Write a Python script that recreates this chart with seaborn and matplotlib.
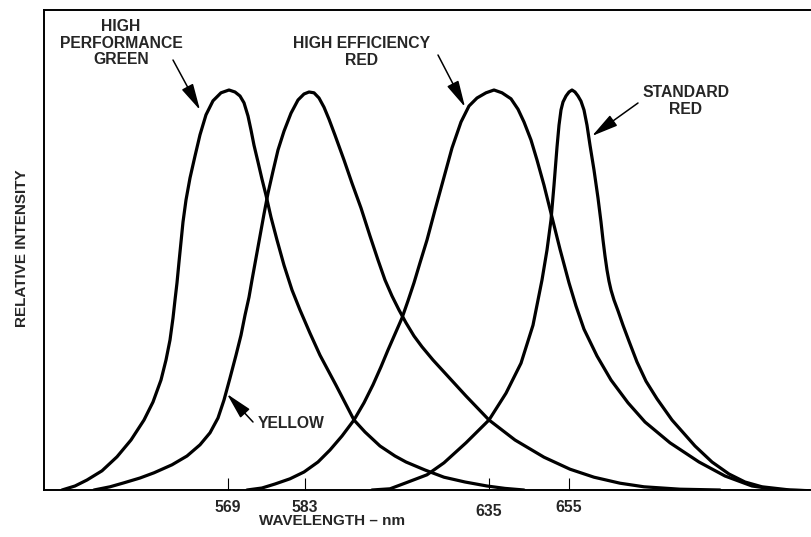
import numpy as np
import pandas as pd
import matplotlib
matplotlib.use("Agg")
from matplotlib import pyplot as plt
import seaborn as sns

# LED emission spectra (schematic), x = position along the wavelength axis,
# y = relative intensity (peak = 1)
green_x = [62, 75, 87, 102, 117, 131, 144, 153, 161, 166, 170, 173, 175, 177, 179, 181, 183, 186,
           190, 195, 200, 206, 213, 221, 229, 235, 240, 244, 248, 251, 254, 258, 262, 266, 271, 277,
           284, 292, 300, 310, 320, 336, 354, 365, 380, 395, 406, 425, 444, 465, 487, 505, 524]
green_y = [0.0, 0.01, 0.025, 0.048, 0.083, 0.125, 0.175, 0.22, 0.275, 0.325, 0.375, 0.43, 0.475,
           0.518, 0.57, 0.62, 0.67, 0.725, 0.78, 0.835, 0.888, 0.938, 0.973, 0.993, 1.0, 0.995,
           0.985, 0.968, 0.935, 0.9, 0.862, 0.82, 0.777, 0.737, 0.682, 0.625, 0.562, 0.5, 0.45,
           0.392, 0.337, 0.262, 0.175, 0.145, 0.11, 0.085, 0.07, 0.05, 0.032, 0.02, 0.01, 0.004, 0.0]

yellow_x = [94, 110, 124, 140, 154, 172, 187, 200, 210, 218, 224, 230, 236, 241, 245, 249, 252, 256,
            260, 264, 268, 273, 278, 284, 291, 298, 304, 309, 314, 319, 324, 329, 335, 344, 352, 361,
            370, 378, 385, 392, 399, 406, 414, 422, 433, 444, 455, 466, 489, 515, 544, 570, 594,
            620, 644, 680, 720]
yellow_y = [0.0, 0.008, 0.018, 0.03, 0.043, 0.063, 0.085, 0.113, 0.143, 0.18, 0.225, 0.28, 0.337,
            0.387, 0.437, 0.482, 0.525, 0.58, 0.635, 0.69, 0.742, 0.797, 0.85, 0.897, 0.942, 0.975,
            0.99, 0.995, 0.993, 0.98, 0.957, 0.927, 0.887, 0.825, 0.767, 0.705, 0.635, 0.575,
            0.525, 0.485, 0.45, 0.418, 0.385, 0.358, 0.325, 0.295, 0.265, 0.235, 0.175, 0.125,
            0.082, 0.052, 0.032, 0.017, 0.008, 0.002, 0.0]

her_x = [247, 262, 275, 290, 304, 318, 330, 342, 354, 364, 373, 381, 388, 395, 402, 408, 414, 420,
         427, 435, 444, 452, 461, 469, 477, 486, 494, 502, 511, 518, 524, 531, 537, 544, 551, 560,
         569, 576, 584, 597, 611, 628, 645, 670, 699, 725, 752, 780, 812]
her_y = [0.0, 0.005, 0.015, 0.028, 0.045, 0.07, 0.1, 0.135, 0.175, 0.218, 0.263, 0.308, 0.35,
         0.39, 0.43, 0.473, 0.518, 0.568, 0.625, 0.7, 0.782, 0.855, 0.92, 0.96, 0.98, 0.993, 1.0,
         0.993, 0.978, 0.952, 0.92, 0.875, 0.825, 0.762, 0.692, 0.602, 0.518, 0.46, 0.402, 0.335,
         0.275, 0.218, 0.17, 0.118, 0.07, 0.035, 0.01, 0.0, -0.002]

std_x = [372, 390, 406, 427, 444, 466, 489, 506, 521, 533, 542, 547, 551, 554, 557, 559, 561, 563,
         566, 569, 572, 575, 578, 581, 584, 587, 590, 594, 598, 601, 603, 605, 607, 609, 611, 614,
         618, 623, 629, 637, 646, 657, 672, 695, 712, 729, 745, 762, 790, 812]
std_y = [0.0, 0.003, 0.018, 0.038, 0.068, 0.118, 0.175, 0.242, 0.317, 0.412, 0.525, 0.6, 0.675,
         0.762, 0.857, 0.912, 0.95, 0.97, 0.985, 0.995, 1.0, 0.995, 0.985, 0.972, 0.95, 0.912,
         0.862, 0.8, 0.73, 0.67, 0.625, 0.585, 0.55, 0.522, 0.5, 0.475, 0.448, 0.412, 0.372,
         0.32, 0.272, 0.228, 0.175, 0.11, 0.07, 0.04, 0.02, 0.008, 0.0, -0.002]

tick_pos = [228, 305, 489, 569]
tick_labels = ["569", "583", "635", "655"]

frames = []
for name, xs, ys in [("green", green_x, green_y), ("yellow", yellow_x, yellow_y),
                     ("her", her_x, her_y), ("std", std_x, std_y)]:
    frames.append(pd.DataFrame({"pos": xs, "intensity": ys, "led": name}))
df = pd.concat(frames, ignore_index=True)

sns.set_style("white")
plt.rcParams['font.family'] = ['Liberation Sans', 'DejaVu Sans']
plt.rcParams['font.weight'] = 'bold'

fig = plt.figure(figsize=(8.12, 5.37), dpi=100)
ax = fig.add_axes([44 / 812, 47 / 537, 768 / 812, 480 / 537])

sns.lineplot(data=df, x="pos", y="intensity", hue="led", units="led", estimator=None,
             palette=["black"] * 4, linewidth=2.3, legend=False, sort=False, ax=ax)

ax.set_xlim(44, 812)
ax.set_ylim(0, 1.2)
ax.set_yticks([])
ax.set_xticks(tick_pos)
ax.set_xticklabels(tick_labels, fontsize=11.3, fontweight='bold')
ax.tick_params(axis='x', bottom=True, direction='in', length=9, width=0.8, pad=7, color='black')
for lbl in ax.get_xticklabels():
    if lbl.get_text() == "635":
        lbl.set_y(-0.009)

for side in ["left", "top", "bottom"]:
    ax.spines[side].set_color("black")
    ax.spines[side].set_linewidth(1.4)
ax.spines["right"].set_visible(False)

ax.set_xlabel("WAVELENGTH – nm", fontsize=11, fontweight='bold')
ax.xaxis.set_label_coords(0.375, -0.05)
ax.set_ylabel("RELATIVE INTENSITY", fontsize=11, fontweight='bold')
ax.yaxis.set_label_coords(-0.02, 0.504)

arrow = dict(arrowstyle="-|>,head_length=1.25,head_width=0.3", color="black", lw=1.1,
             mutation_scale=13, shrinkA=0, shrinkB=0)
txt = dict(fontsize=11.3, fontweight='bold', ha='center', va='center', linespacing=1.1)

ax.text(121, 1.1175, "HIGH\nPERFORMANCE\nGREEN", **txt)
ax.annotate("", xy=(200, 0.95), xytext=(173, 1.075), arrowprops=arrow)

ax.text(362, 1.095, "HIGH EFFICIENCY\nRED", **txt)
ax.annotate("", xy=(465, 0.9575), xytext=(438, 1.0875), arrowprops=arrow)

ax.text(686, 0.9725, "STANDARD\nRED", **txt)
ax.annotate("", xy=(592, 0.885), xytext=(638, 0.9675), arrowprops=arrow)

ax.text(258, 0.1675, "YELLOW", fontsize=11.3, fontweight='bold', ha='left', va='center')
ax.annotate("", xy=(227, 0.24), xytext=(253, 0.17), arrowprops=arrow)

fig.savefig("out.png", dpi=100)
